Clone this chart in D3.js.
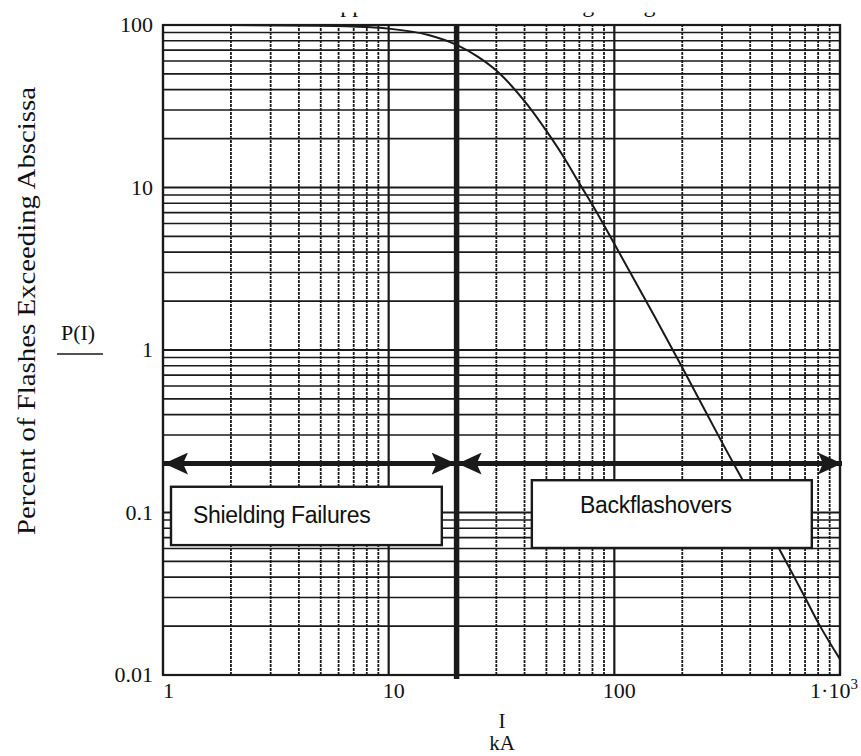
<!DOCTYPE html>
<html>
<head>
<meta charset="utf-8">
<script src="https://cdn.jsdelivr.net/npm/d3@7"></script>
<style>
	body { margin: 0; background: #fff; }
	svg { display: block; }
	.serif { font-family: "Liberation Serif", "Times New Roman", serif; fill: #111; }
	.sans { font-family: "Liberation Sans", Arial, sans-serif; fill: #111; }
</style>
</head>
<body>
<svg id="chart" width="861" height="756"></svg>
<script>
// current (kA) vs percent of flashes exceeding it
let currentKA = [1, 2, 5, 8, 10, 15, 20, 25, 30, 40, 50, 60, 70, 80, 100, 150, 200, 300, 400, 500, 600, 700, 800, 1000];
let percentExceeding = [100, 99.9, 99.1, 97.2, 95, 86.8, 75.5, 63.5, 52.5, 34, 22.3, 15.2, 10.6, 7.8, 4.5, 1.63, 0.78, 0.27, 0.13, 0.072, 0.045, 0.030, 0.021, 0.0125];

let xTickValues = [1, 10, 100, 1000];
let xTickLabels = ["1", "10", "100", "1·10"];
let yTickValues = [100, 10, 1, 0.1, 0.01];
let yTickLabels = ["100", "10", "1", "0.1", "0.01"];

let dividerCurrent = 20;
let arrowLevel = 0.2;
let regions = [{"name": "Shielding Failures", "from": 1, "to": 20}, {"name": "Backflashovers", "from": 20, "to": 1000}];

let margin = {"left": 163, "top": 25, "bottom": 81, "right": 21};
let width = 861;
let height = 756;
let ink = "#1a1a1a";

let svg = d3.select("#chart");

let scaleX = d3.scaleLog()
	.domain([1, 1000])
	.range([margin.left, width - margin.right]);

let scaleY = d3.scaleLog()
	.domain([0.01, 100])
	.range([height - margin.bottom, margin.top]);

// clipped title, only the descenders survive like on the scan
let defs = svg.append("defs");
defs.append("clipPath").attr("id", "titleClip")
	.append("rect").attr("x", 0).attr("y", 12.5).attr("width", width).attr("height", 10);
defs.append("clipPath").attr("id", "plotClip")
	.append("rect")
	.attr("x", scaleX.range()[0]).attr("y", scaleY.range()[1])
	.attr("width", scaleX.range()[1] - scaleX.range()[0])
	.attr("height", scaleY.range()[0] - scaleY.range()[1]);

svg.append("text")
	.attr("class", "serif")
	.attr("clip-path", "url(#titleClip)")
	.attr("x", 323)
	.attr("y", 12)
	.style("font-size", "24px")
	.text("Approximate Current of Lightning Strokes");

// grid values: 1..9 in each decade
function decadeValues(lo, hi){
	let out = [];
	for (let d = lo; d < hi; d *= 10){
		for (let m = 1; m < 10; m++){ out.push(+(m * d).toPrecision(3)); }
	}
	out.push(hi);
	return out;
}
let gridX = decadeValues(1, 1000);
let gridY = decadeValues(0.01, 100);
let isMajor = v => Math.abs(Math.log10(v) - Math.round(Math.log10(v))) < 1e-6;

let grid = svg.append("g").attr("class", "grid");

grid.selectAll("line.h")
	.data(gridY)
	.join("line")
	.attr("class", "h")
	.attr("x1", scaleX.range()[0]).attr("x2", scaleX.range()[1])
	.attr("y1", d => scaleY(d)).attr("y2", d => scaleY(d))
	.attr("stroke", ink)
	.attr("stroke-width", d => isMajor(d) ? 2.2 : 1.6);

grid.selectAll("line.v")
	.data(gridX)
	.join("line")
	.attr("class", "v")
	.attr("y1", scaleY.range()[0]).attr("y2", scaleY.range()[1])
	.attr("x1", d => scaleX(d)).attr("x2", d => scaleX(d))
	.attr("stroke", ink)
	.attr("stroke-width", d => isMajor(d) ? 2.2 : 1.8)
	.attr("stroke-dasharray", d => isMajor(d) ? null : "3,1");

// frame
svg.append("rect")
	.attr("x", scaleX.range()[0]).attr("y", scaleY.range()[1])
	.attr("width", scaleX.range()[1] - scaleX.range()[0])
	.attr("height", scaleY.range()[0] - scaleY.range()[1])
	.attr("fill", "none")
	.attr("stroke", ink)
	.attr("stroke-width", 2.2);

// distribution curve
let line = d3.line()
	.x((d, i) => scaleX(currentKA[i]))
	.y(d => scaleY(d))
	.curve(d3.curveMonotoneX);

svg.append("path")
	.attr("d", line(percentExceeding))
	.attr("clip-path", "url(#plotClip)")
	.attr("fill", "none")
	.attr("stroke", ink)
	.attr("stroke-width", 2);

// divider between the two regions
svg.append("line")
	.attr("x1", scaleX(dividerCurrent)).attr("x2", scaleX(dividerCurrent))
	.attr("y1", scaleY.range()[1] + 1).attr("y2", scaleY.range()[0] + 4)
	.attr("stroke", ink)
	.attr("stroke-width", 5.5);

// arrows
let marker = defs.append("marker")
	.attr("id", "head")
	.attr("markerUnits", "userSpaceOnUse")
	.attr("viewBox", "0 0 24 22")
	.attr("refX", 24).attr("refY", 11)
	.attr("markerWidth", 24).attr("markerHeight", 22)
	.attr("orient", "auto-start-reverse");
marker.append("path").attr("d", "M0,0L24,11L0,22L5,11Z").attr("fill", ink);

svg.selectAll("line.arrow")
	.data(regions)
	.join("line")
	.attr("class", "arrow")
	.attr("x1", d => scaleX(d.from) + 1).attr("x2", d => scaleX(d.to) + (d.to === 1000 ? 2 : -1))
	.attr("y1", scaleY(arrowLevel)).attr("y2", scaleY(arrowLevel))
	.attr("stroke", ink)
	.attr("stroke-width", 5)
	.attr("marker-start", "url(#head)")
	.attr("marker-end", "url(#head)");

// region label boxes
let boxes = [
	{"x0": 1.085, "x1": 17.2, "y0": 0.144, "y1": 0.063, "tx": 193, "ty": 523},
	{"x0": 43.1, "x1": 750, "y0": 0.158, "y1": 0.0605, "tx": 580, "ty": 513}
];
let boxG = svg.selectAll("g.box")
	.data(regions)
	.join("g")
	.attr("class", "box");
boxG.append("rect")
	.attr("x", (d, i) => scaleX(boxes[i].x0))
	.attr("y", (d, i) => scaleY(boxes[i].y0))
	.attr("width", (d, i) => scaleX(boxes[i].x1) - scaleX(boxes[i].x0))
	.attr("height", (d, i) => scaleY(boxes[i].y1) - scaleY(boxes[i].y0))
	.attr("fill", "#fff")
	.attr("stroke", ink)
	.attr("stroke-width", 2.4);
boxG.append("text")
	.attr("class", "sans")
	.attr("x", (d, i) => boxes[i].tx)
	.attr("y", (d, i) => boxes[i].ty)
	.style("font-size", "23px")
	.style("letter-spacing", "-0.3px")
	.text(d => d.name);

// y tick labels
svg.selectAll("text.ytick")
	.data(yTickValues)
	.join("text")
	.attr("class", "serif ytick")
	.attr("x", 153)
	.attr("y", d => scaleY(d) + 7)
	.attr("text-anchor", "end")
	.style("font-size", "22px")
	.text((d, i) => yTickLabels[i]);

// x tick labels
let xt = svg.selectAll("text.xtick")
	.data(xTickValues)
	.join("text")
	.attr("class", "serif xtick")
	.attr("x", (d, i) => i === 0 ? scaleX(d) : (i === 3 ? scaleX(d) - 6 : scaleX(d) + 5))
	.attr("y", 698)
	.attr("text-anchor", (d, i) => i === 0 ? "start" : "middle")
	.style("font-size", "22px")
	.text((d, i) => xTickLabels[i]);
xt.filter((d, i) => i === 3)
	.append("tspan")
	.attr("dy", -9)
	.style("font-size", "15px")
	.text("3");

// axis titles
svg.append("text")
	.attr("class", "serif")
	.attr("transform", "translate(35,311) rotate(-90)")
	.attr("text-anchor", "middle")
	.attr("textLength", 448)
	.attr("lengthAdjust", "spacingAndGlyphs")
	.style("font-size", "25px")
	.text("Percent of Flashes Exceeding Abscissa");

svg.append("text")
	.attr("class", "serif")
	.attr("x", 78).attr("y", 340)
	.attr("text-anchor", "middle")
	.style("font-size", "22px")
	.text("P(I)");
svg.append("line")
	.attr("x1", 57).attr("x2", 103)
	.attr("y1", 354).attr("y2", 354)
	.attr("stroke", ink)
	.attr("stroke-width", 1.5);

svg.append("text")
	.attr("class", "serif")
	.attr("x", 502).attr("y", 728)
	.attr("text-anchor", "middle")
	.style("font-size", "21px")
	.text("I");
svg.append("text")
	.attr("class", "serif")
	.attr("x", 502).attr("y", 750)
	.attr("text-anchor", "middle")
	.style("font-size", "21px")
	.text("kA");
</script>
</body>
</html>
